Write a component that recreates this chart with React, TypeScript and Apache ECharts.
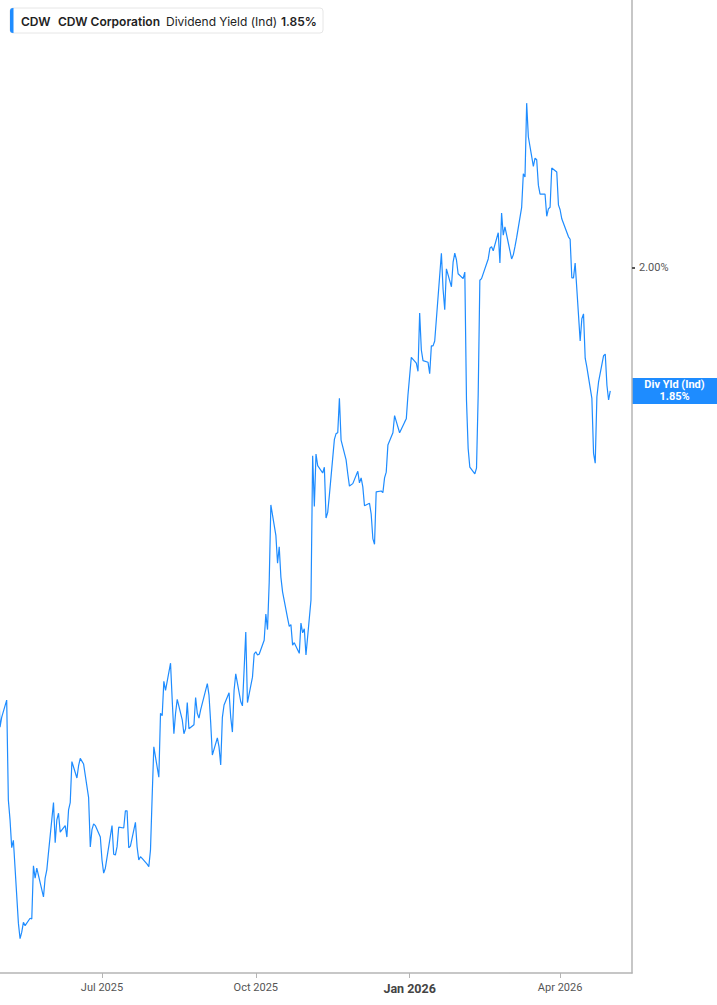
import React, { useEffect, useRef } from "react";
import * as echarts from "echarts";

const firstTradingDay = "2025-04-30";
const marketHolidays = [
  "2025-05-26", "2025-06-19", "2025-07-04", "2025-09-01", "2025-11-27",
  "2025-12-25", "2026-01-01", "2026-01-19", "2026-02-16", "2026-04-03",
];

const divYield = [
  1.506, 1.440, 1.452, 1.473, 1.351, 1.327, 1.293, 1.302, 1.201, 1.182,
  1.190, 1.202, 1.198, 1.207, 1.206, 1.271, 1.256, 1.268, 1.233, 1.256,
  1.266, 1.287, 1.348, 1.299, 1.327, 1.335, 1.312, 1.320, 1.306, 1.339,
  1.348, 1.398, 1.378, 1.393, 1.402, 1.395, 1.354, 1.294, 1.315, 1.322,
  1.320, 1.306, 1.278, 1.262, 1.268, 1.320, 1.285, 1.284, 1.294, 1.318,
  1.317, 1.338, 1.338, 1.293, 1.295, 1.324, 1.294, 1.278, 1.282, 1.280,
  1.273, 1.270, 1.290, 1.355, 1.416, 1.379, 1.457, 1.454, 1.496, 1.485,
  1.518, 1.473, 1.432, 1.457, 1.474, 1.449, 1.432, 1.438, 1.470, 1.438,
  1.443, 1.476, 1.457, 1.451, 1.461, 1.493, 1.479, 1.446, 1.406, 1.427,
  1.416, 1.394, 1.452, 1.467, 1.482, 1.452, 1.434, 1.485, 1.505, 1.471,
  1.466, 1.510, 1.556, 1.470, 1.501, 1.529, 1.532, 1.528, 1.529, 1.546,
  1.578, 1.559, 1.616, 1.711, 1.674, 1.640, 1.660, 1.623, 1.605, 1.573,
  1.563, 1.565, 1.540, 1.543, 1.530, 1.567, 1.555, 1.560, 1.528, 1.595,
  1.771, 1.709, 1.773, 1.759, 1.750, 1.757, 1.695, 1.702, 1.723, 1.791,
  1.798, 1.799, 1.841, 1.790, 1.766, 1.749, 1.734, 1.737, 1.752, 1.738,
  1.744, 1.733, 1.710, 1.713, 1.700, 1.670, 1.663, 1.727, 1.728, 1.726,
  1.744, 1.751, 1.784, 1.799, 1.820, 1.813, 1.799, 1.812, 1.816, 1.845,
  1.891, 1.884, 1.874, 1.945, 1.900, 1.887, 1.885, 1.871, 1.905, 1.905,
  1.911, 2.018, 1.974, 1.949, 1.999, 1.977, 2.007, 2.018, 2.010, 1.993,
  1.987, 1.995, 1.839, 1.780, 1.757, 1.749, 1.756, 1.845, 1.985, 1.987,
  2.011, 2.024, 2.026, 2.021, 2.043, 2.006, 2.067, 2.040, 2.050, 2.021,
  2.011, 2.016, 2.026, 2.037, 2.074, 2.115, 2.111, 2.201, 2.160, 2.124,
  2.134, 2.132, 2.101, 2.090, 2.090, 2.063, 2.072, 2.074, 2.122, 2.117,
  2.077, 2.071, 2.060, 2.038, 2.035, 1.988, 1.988, 2.006, 1.911, 1.938,
  1.944, 1.890, 1.879, 1.841, 1.774, 1.762, 1.843, 1.861, 1.893, 1.895,
  1.857, 1.839, 1.850,
];

const xTickDates = ["2025-07-01", "2025-10-01", "2026-01-01", "2026-04-01"];
const yTickValues = [2.0];
const xRange = ["2025-05-01", "2026-05-14"];
const yRange = [1.1402, 2.3268];

const ticker = "CDW";
const companyName = "CDW Corporation";
const metricName = "Dividend Yield (Ind)";
const endLabelName = "Div Yld (Ind)";

const BLUE = "#1e8cff";
const MONTHS = ["Jan", "Feb", "Mar", "Apr", "May", "Jun", "Jul", "Aug", "Sep", "Oct", "Nov", "Dec"];

function ts(s: string): number {
  const [y, m, d] = s.split("-").map(Number);
  return Date.UTC(y, m - 1, d);
}

function tradingDays(start: string, count: number): number[] {
  const hol = new Set(marketHolidays.map(ts));
  const out: number[] = [];
  let t = ts(start);
  while (out.length < count) {
    const wd = new Date(t).getUTCDay();
    if (wd !== 0 && wd !== 6 && !hol.has(t)) out.push(t);
    t += 86400000;
  }
  return out;
}

export default function App() {
  const ref = useRef<HTMLDivElement>(null);
  useEffect(() => {
    document.body.style.margin = "0";
    const chart = echarts.init(ref.current!, null, { renderer: "svg" });
    const dates = tradingDays(firstTradingDay, divYield.length);
    const data = divYield.map((v, i) => [dates[i], v]);
    const last = divYield[divYield.length - 1];
    const font = "Inter, 'Noto Sans', sans-serif";
    const xTicks = xTickDates.map(ts);

    chart.setOption({
      animation: false,
      grid: { left: 0, top: 0, right: 85, bottom: 32, containLabel: false },
      xAxis: {
        type: "value",
        min: ts(xRange[0]),
        max: ts(xRange[1]),
        axisLine: { show: true, lineStyle: { color: "#b4b4b4", width: 1.5 } },
        axisTick: {
          show: true,
          length: 5,
          lineStyle: { color: "#b4b4b4" },
          customValues: xTicks,
        },
        axisLabel: {
          customValues: xTicks,
          margin: 9,
          formatter: (v: number) => {
            const d = new Date(v);
            const m = d.getUTCMonth();
            const txt = MONTHS[m] + " " + d.getUTCFullYear();
            return m === 0 ? "{b|" + txt + "}" : "{n|" + txt + "}";
          },
          rich: {
            n: { fontFamily: "Roboto, sans-serif", fontSize: 11, color: "#555" },
            b: { fontFamily: "Roboto, sans-serif", fontSize: 12.5, fontWeight: "bold", color: "#444" },
          },
        },
        splitLine: { show: false },
      },
      yAxis: {
        type: "value",
        position: "right",
        min: yRange[0],
        max: yRange[1],
        axisLine: { show: true, lineStyle: { color: "#b4b4b4", width: 1.5 } },
        axisTick: {
          show: true,
          length: 3,
          lineStyle: { color: "#555", width: 2 },
          customValues: yTickValues,
        },
        axisLabel: {
          customValues: yTickValues,
          margin: 7,
          fontFamily: "Roboto, sans-serif",
          fontSize: 11,
          color: "#555",
          formatter: (v: number) => v.toFixed(2) + "%",
        },
        splitLine: { show: false },
      },
      series: [
        {
          type: "line",
          data,
          showSymbol: false,
          symbol: "none",
          lineStyle: { color: BLUE, width: 1.2 },
          clip: true,
        },
      ],
    });

    const py = chart.convertToPixel({ yAxisIndex: 0 }, last) as number;
    const rightEdge = 717 - 85;
    const boldFont = "600 12px " + font;
    const normFont = "400 12px " + font;
    chart.setOption({
      graphic: [
        {
          type: "group",
          x: 10,
          y: 8,
          children: [
            { type: "rect", shape: { x: 0, y: 0, width: 313, height: 25, r: 3 }, style: { fill: "#fff", stroke: "#e6e6e6", lineWidth: 1 } },
            { type: "rect", shape: { x: 0, y: 0, width: 3.5, height: 25, r: [3, 0, 0, 3] }, style: { fill: BLUE } },
            { type: "text", x: 11, y: 13, style: { text: ticker, font: boldFont, fill: "#222", verticalAlign: "middle" } },
            { type: "text", x: 48, y: 13, style: { text: companyName, font: boldFont, fill: "#222", verticalAlign: "middle" } },
            { type: "text", x: 156, y: 13, style: { text: metricName, font: normFont, fill: "#222", verticalAlign: "middle" } },
            { type: "text", x: 271, y: 13, style: { text: last.toFixed(2) + "%", font: boldFont, fill: "#222", verticalAlign: "middle" } },
          ],
        },
        {
          type: "group",
          x: rightEdge,
          y: py,
          children: [
            { type: "rect", shape: { x: 0, y: -13, width: 85, height: 26 }, style: { fill: BLUE } },
            {
              type: "text",
              x: 42.5,
              y: 0,
              style: {
                text: endLabelName + "\n" + last.toFixed(2) + "%",
                font: "bold 11px Roboto, sans-serif",
                lineHeight: 12,
                fill: "#fff",
                align: "center",
                verticalAlign: "middle",
              },
            },
          ],
        },
      ],
    });

    return () => chart.dispose();
  }, []);
  return <div ref={ref} style={{ position: "absolute", left: 0, top: 0, width: 717, height: 1005 }} />;
}
